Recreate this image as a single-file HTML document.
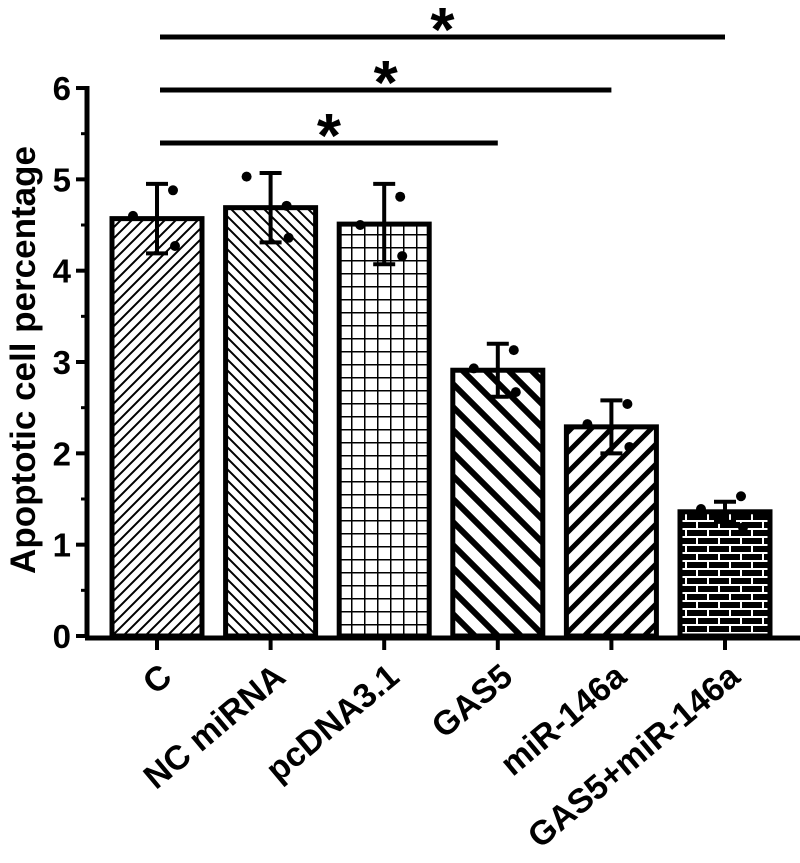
<!DOCTYPE html>
<html><head><meta charset="utf-8"><style>
html,body{margin:0;padding:0;background:#fff}
svg{display:block}
text{font-family:"Liberation Sans",Arial,sans-serif;font-weight:bold;fill:#000}
</style></head><body>
<svg id="chart" width="800" height="863" viewBox="0 0 800 863" xmlns="http://www.w3.org/2000/svg">
<defs>
<pattern id="p0" patternUnits="userSpaceOnUse" width="11" height="11"><path d="M-2,13 L13,-2 M-2,2 L2,-2 M9,13 L13,9" stroke="#000" stroke-width="2"/></pattern>
<pattern id="p1" patternUnits="userSpaceOnUse" width="11" height="11"><path d="M-2,-2 L13,13 M-2,9 L2,13 M9,-2 L13,2" stroke="#000" stroke-width="2"/></pattern>
<pattern id="p2" patternUnits="userSpaceOnUse" width="13" height="13"><path d="M0,0 H13 M0,0 V13" stroke="#000" stroke-width="3"/></pattern>
<pattern id="p3" patternUnits="userSpaceOnUse" width="23" height="23"><path d="M-3,-3 L26,26 M-3,20 L3,26 M20,-3 L26,3" stroke="#000" stroke-width="6"/></pattern>
<pattern id="p4" patternUnits="userSpaceOnUse" width="20" height="20"><path d="M-3,23 L23,-3 M-3,3 L3,-3 M17,23 L23,17" stroke="#000" stroke-width="5"/></pattern>
<pattern id="p5" patternUnits="userSpaceOnUse" width="22" height="16"><rect width="22" height="16" fill="#000"/><path d="M0,1 H22 M0,9 H22 M4,1 V9 M15,9 V16" stroke="#fff" stroke-width="2"/></pattern>
</defs>
<g id="plot"></g>
</svg>
<script>
const categories = ["C","NC miRNA","pcDNA3.1","GAS5","miR-146a","GAS5+miR-146a"];
const means = [4.57,4.69,4.51,2.91,2.29,1.36];
const sds = [0.38,0.38,0.44,0.29,0.29,0.11];
const points = [[4.6,4.88,4.27],[5.03,4.71,4.36],[4.5,4.81,4.16],[2.93,3.13,2.67],[2.32,2.54,2.07],[1.39,1.53,1.19]];
const yTicks = [0,1,2,3,4,5,6];
const yMinorTicks = [0.5,1.5,2.5,3.5,4.5,5.5];
const sigPairs = [[0,5],[0,4],[0,3]];
const sigLabels = ["*","*","*"];

const NS="http://www.w3.org/2000/svg";
const g=document.getElementById('plot');
const y=v=>636-v*91.33;
const xc=i=>157+i*113.6;
const bw=90;
function el(t,a,p){const e=document.createElementNS(NS,t);for(const k in a)e.setAttribute(k,a[k]);(p||g).appendChild(e);return e;}

// y axis
const ya=el('line',{x1:87,y1:y(6)-2,x2:87,y2:638,stroke:'#000','stroke-width':5});


yTicks.forEach(t=>{
  const tk=el('line',{x1:76,y1:y(t),x2:87,y2:y(t),stroke:'#000','stroke-width':4});
  
  
  const tl=el('text',{x:71,y:y(t)+12,'text-anchor':'end','font-size':33});
  tl.textContent=t;
  
  
});
yMinorTicks.forEach(t=>{
  const tk=el('line',{x1:81,y1:y(t),x2:87,y2:y(t),stroke:'#000','stroke-width':3});
  
  
});
const yt=el('text',{transform:'translate(35,360) rotate(-90)','text-anchor':'middle','font-size':35});
yt.textContent='Apoptotic cell percentage';



// bars
categories.forEach((c,i)=>{
  const bar=el('rect',{x:xc(i)-bw/2,y:y(means[i]),width:bw,height:y(0)-y(means[i]),fill:'url(#p'+i+')',stroke:'#000','stroke-width':5});
  
  
  const eb=el('path',{d:`M${xc(i)},${y(means[i]-sds[i])} V${y(means[i]+sds[i])} M${xc(i)-11},${y(means[i]+sds[i])} H${xc(i)+11} M${xc(i)-11},${y(means[i]-sds[i])} H${xc(i)+11}`,stroke:'#000','stroke-width':4,fill:'none'});
  
  
  const offs=[-24,16,18];
  points[i].forEach((p,j)=>{
    const d=el('circle',{cx:xc(i)+offs[j],cy:y(p),r:5,fill:'#000'});
    
    
  });
  const tk=el('line',{x1:xc(i),y1:638,x2:xc(i),y2:650,stroke:'#000','stroke-width':4});
  
  
  const lb=el('text',{transform:`translate(${xc(i)+17},680) rotate(-40)`,'text-anchor':'end','font-size':34});
  lb.textContent=c;
  
  
});
const xa=el('line',{x1:85,y1:638,x2:800,y2:638,stroke:'#000','stroke-width':5});



// significance
const sigY=[37,90,143];
sigPairs.forEach((p,k)=>{
  const x1=xc(p[0])+3, x2=xc(p[1]);
  const ln=el('line',{x1:x1,y1:sigY[k],x2:x2,y2:sigY[k],stroke:'#000','stroke-width':5});
  
  
  const st=el('text',{x:(x1+x2)/2,y:sigY[k]+14,'text-anchor':'middle','font-size':62});
  st.textContent=sigLabels[k];
  
  
});
</script>
</body></html>
